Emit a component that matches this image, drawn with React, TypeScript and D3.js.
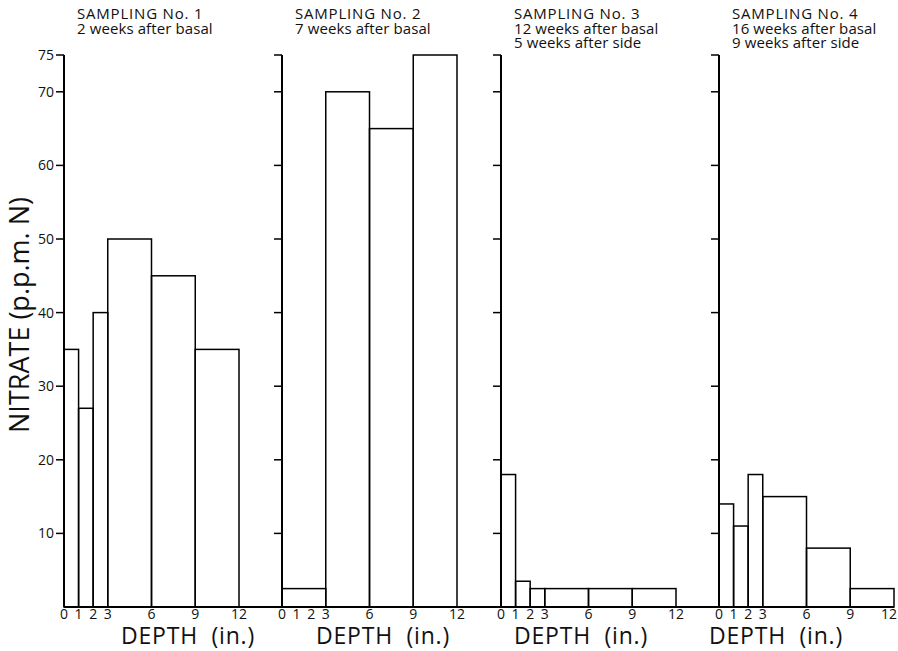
import React from "react";
import * as d3 from "d3";

const depthTicks = [0, 1, 2, 3, 6, 9, 12];
const nitrateTicks = [10, 20, 30, 40, 50, 60, 70, 75];

const titles1 = ["SAMPLING No. 1", "2 weeks after basal"];
const titles2 = ["SAMPLING No. 2", "7 weeks after basal"];
const titles3 = ["SAMPLING No. 3", "12 weeks after basal", "5 weeks after side"];
const titles4 = ["SAMPLING No. 4", "16 weeks after basal", "9 weeks after side"];

const edges1 = [0, 1, 2, 3, 6, 9, 12];
const values1 = [35, 27, 40, 50, 45, 35];
const edges2 = [0, 3, 6, 9, 12];
const values2 = [2.5, 70, 65, 75];
const edges3 = [0, 1, 2, 3, 6, 9, 12];
const values3 = [18, 3.5, 2.5, 2.5, 2.5, 2.5];
const edges4 = [0, 1, 2, 3, 6, 9, 12];
const values4 = [14, 11, 18, 15, 8, 2.5];

const panels = [
  { titles: titles1, edges: edges1, values: values1 },
  { titles: titles2, edges: edges2, values: values2 },
  { titles: titles3, edges: edges3, values: values3 },
  { titles: titles4, edges: edges4, values: values4 },
];

const W = 898;
const H = 651;
const panelLeft = [64, 282, 501, 719];
const panelWidth = 175;
const depthLabelX = [188, 383, 581, 776];
const FONT = "'Open Sans', 'DejaVu Sans', sans-serif";

export default function App() {
  const y = d3.scaleLinear().domain([0, 75]).range([607, 55]);
  return (
    <svg
      width={W}
      height={H}
      style={{ position: "absolute", left: 0, top: 0, background: "#fff" }}
      fontFamily={FONT}
    >
      <rect x={0} y={0} width={W} height={H} fill="#fff" />
      <line x1={panelLeft[0]} x2={894} y1={y(0)} y2={y(0)} stroke="#000" strokeWidth={2} />
      {panels.map((p, i) => {
        const x = d3.scaleLinear().domain([0, 12]).range([panelLeft[i], panelLeft[i] + panelWidth]);
        return (
          <g key={i}>
            {p.titles.map((t, j) => (
              <text
                key={j}
                x={panelLeft[i] + 13}
                y={19 + j * 14.5}
                fontSize={15}
                letterSpacing={j === 0 ? 0.8 : 0.1}
                fill="#111"
              >
                {t}
              </text>
            ))}
            {p.values.map((v, k) => (
              <rect
                key={k}
                x={x(p.edges[k])}
                y={y(v)}
                width={x(p.edges[k + 1]) - x(p.edges[k])}
                height={y(0) - y(v)}
                fill="none"
                stroke="#000"
                strokeWidth={1.5}
              />
            ))}
            <line x1={x(0)} x2={x(0)} y1={y(0)} y2={y(75)} stroke="#000" strokeWidth={2} />
            {nitrateTicks.map((t) => (
              <g key={t}>
                <line x1={x(0) - 8} x2={x(0)} y1={y(t)} y2={y(t)} stroke="#000" strokeWidth={1.5} />
                {i === 0 && (
                  <text x={x(0) - 10} y={y(t)} dy="0.35em" textAnchor="end" fontSize={14} fill="#111">
                    {t}
                  </text>
                )}
              </g>
            ))}
            {depthTicks.map((t) => (
              <text
                key={t}
                x={Math.min(x(t), W - 9)}
                y={y(0) + 12}
                textAnchor="middle"
                fontSize={14}
                fill="#111"
              >
                {t}
              </text>
            ))}
            <text
              x={depthLabelX[i]}
              y={y(0) + 37}
              textAnchor="middle"
              fontSize={23}
              letterSpacing={0.8}
              fill="#111"
            >
              DEPTH{"\u00a0\u00a0"}(in.)
            </text>
          </g>
        );
      })}
      <text
        transform={`translate(29, 315) rotate(-90)`}
        textAnchor="middle"
        fontSize={27}
        fill="#111"
      >
        NITRATE (p.p.m. N)
      </text>
    </svg>
  );
}
